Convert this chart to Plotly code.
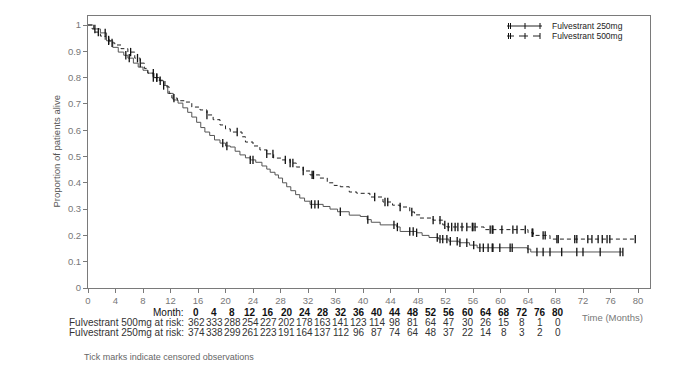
import plotly.graph_objects as go
import bisect

# ---------------- data ----------------
# Kaplan-Meier step points (time in months, proportion alive)
t250 = [0, 0.8, 1.8, 2.7, 3.6, 4.4, 5.2, 5.8, 6.6, 7.3, 8.0, 8.7, 9.6, 10.4, 11.0, 11.6,
        12.4, 13.1, 13.8, 14.5, 15.1, 15.8, 16.4, 17.0, 17.7, 18.4, 19.2, 20.0, 20.7, 21.4,
        22.1, 22.9, 23.6, 24.4, 25.3, 26.0, 26.5, 27.2, 27.7, 28.3, 28.9, 29.5, 30.2, 30.8,
        31.5, 32.3, 34.2, 35.2, 36.3, 38.0, 39.6, 40.6, 41.2, 42.5, 44.9, 45.4, 47.8, 48.6,
        49.6, 51.0, 52.5, 54.0, 55.5, 56.6, 63.9, 64.4, 77.8]
s250 = [1.0, 0.985, 0.97, 0.94, 0.915, 0.897, 0.885, 0.874, 0.855, 0.84, 0.828, 0.817, 0.80,
        0.788, 0.77, 0.74, 0.715, 0.703, 0.685, 0.668, 0.65, 0.63, 0.61, 0.593, 0.58, 0.563,
        0.551, 0.54, 0.536, 0.52, 0.506, 0.495, 0.487, 0.478, 0.464, 0.452, 0.44, 0.43, 0.418,
        0.40, 0.385, 0.37, 0.355, 0.342, 0.33, 0.318, 0.31, 0.30, 0.29, 0.277, 0.272, 0.26,
        0.25, 0.24, 0.232, 0.215, 0.21, 0.20, 0.192, 0.186, 0.178, 0.172, 0.163, 0.153, 0.148,
        0.137, 0.137]

t500 = [0, 0.6, 1.0, 1.8, 2.5, 3.2, 3.9, 4.8, 5.8, 6.8, 7.6, 8.2, 8.7, 9.5, 10.2, 11.2, 11.8,
        12.2, 13.0, 14.1, 15.1, 16.3, 17.3, 18.2, 19.2, 20.0, 20.7, 22.4, 22.9, 24.0, 25.0,
        26.0, 27.0, 28.2, 29.4, 30.3, 31.3, 32.3, 33.7, 34.8, 35.8, 36.7, 38.0, 39.1, 41.0,
        42.9, 44.3, 45.4, 46.8, 47.5, 48.3, 50.2, 51.6, 52.2, 57.6, 64.0, 64.8, 67.2, 79.8]
s500 = [1.0, 0.985, 0.973, 0.958, 0.943, 0.932, 0.924, 0.91, 0.897, 0.874, 0.855, 0.835,
        0.817, 0.80, 0.79, 0.765, 0.74, 0.722, 0.712, 0.707, 0.688, 0.677, 0.658, 0.64, 0.62,
        0.605, 0.593, 0.575, 0.555, 0.54, 0.525, 0.51, 0.494, 0.487, 0.475, 0.46, 0.445, 0.43,
        0.418, 0.40, 0.39, 0.385, 0.365, 0.36, 0.346, 0.327, 0.315, 0.308, 0.289, 0.278, 0.266,
        0.258, 0.24, 0.232, 0.222, 0.21, 0.20, 0.186, 0.186]

# censored observation times (months)
cens250 = [1.0, 2.5, 3.0, 5.5, 6.0, 9.5, 10.0, 10.5, 11.0, 19.6, 20.2, 23.6, 24.0, 32.5, 33.0,
           33.5, 36.7, 40.7, 44.5, 45.0, 46.8, 47.3, 47.8, 50.8, 51.2, 51.6, 52.2, 52.7, 53.7,
           54.1, 55.1, 56.1, 57.0, 57.5, 58.2, 58.8, 58.9, 59.9, 61.4, 61.7, 64.0, 65.3, 66.2,
           67.2, 68.9, 71.1, 72.0, 74.5, 77.4, 77.8]
cens500 = [1.5, 3.0, 3.5, 6.2, 7.2, 7.6, 9.5, 10.0, 12.5, 17.3, 21.7, 26.0, 26.9, 28.7, 29.4,
           29.8, 31.3, 32.6, 32.8, 41.7, 43.2, 43.6, 45.4, 47.1, 50.2, 51.2, 51.9, 52.4, 52.9,
           53.4, 53.8, 54.4, 55.1, 55.9, 56.0, 56.3, 58.5, 58.8, 58.9, 60.2, 61.8, 62.4, 63.6,
           64.6, 64.7, 66.2, 66.5, 68.2, 68.4, 70.8, 71.1, 72.7, 73.3, 74.2, 74.8, 75.5, 75.9,
           79.6]

x_ticks = list(range(0, 81, 4))
y_ticks = [0, 0.1, 0.2, 0.3, 0.4, 0.5, 0.6, 0.7, 0.8, 0.9, 1]
y_tick_labels = ["0", "0.1", "0.2", "0.3", "0.4", "0.5", "0.6", "0.7", "0.8", "0.9", "1"]

risk_months = list(range(0, 81, 4))
risk500 = [362, 333, 288, 254, 227, 202, 178, 163, 141, 123, 114, 98, 81, 64, 47, 30, 26, 15, 8, 1, 0]
risk250 = [374, 338, 299, 261, 223, 191, 164, 137, 112, 96, 87, 74, 64, 48, 37, 22, 14, 8, 3, 2, 0]

name250 = "Fulvestrant 250mg"
name500 = "Fulvestrant 500mg"

# ---------------- helpers ----------------
def surv_at(ts, ss, t):
    i = bisect.bisect_right(ts, t) - 1
    return ss[max(i, 0)]

FONT = "Liberation Sans, Arial, sans-serif"
# the page body adds an 8px offset; plot area sits at page x 88..650, y 16..288
OFF = 8
W, H = 665, 360
PL, PR, PT, PB = 88, 650, 16, 288
L, T = PL - OFF, PT - OFF
R = W - (PR - OFF)
B = H - (PB - OFF)
PW, PH = PR - PL, PB - PT

def px_x(px):
    return (px - PL) / PW

def px_y(py):
    return (PB - py) / PH

fig = go.Figure()

fig.add_trace(go.Scatter(x=t250, y=s250, mode="lines", line=dict(color="#555555", width=1, shape="hv"),
                         name=name250, showlegend=False, hoverinfo="skip"))
fig.add_trace(go.Scatter(x=t500, y=s500, mode="lines",
                         line=dict(color="#222222", width=1, shape="hv", dash="4px,3px"),
                         name=name500, showlegend=False, hoverinfo="skip"))

fig.add_trace(go.Scatter(x=cens250, y=[surv_at(t250, s250, t) for t in cens250], mode="markers",
                         marker=dict(symbol="line-ns", size=6, line=dict(color="#111111", width=1.3)),
                         showlegend=False, hoverinfo="skip"))
fig.add_trace(go.Scatter(x=cens500, y=[surv_at(t500, s500, t) for t in cens500], mode="markers",
                         marker=dict(symbol="line-ns", size=6, line=dict(color="#111111", width=1.3)),
                         showlegend=False, hoverinfo="skip"))

ax_col = "#7a7a7a"
tick_font = dict(family=FONT, size=9.5, color="#777777")
fig.update_xaxes(range=[0, PW / 6.875], tickvals=x_ticks, ticktext=[str(v) for v in x_ticks],
                 showgrid=False, zeroline=False, showline=True, linecolor=ax_col, linewidth=1,
                 mirror=True, ticks="outside", ticklen=4, tickcolor=ax_col, tickfont=tick_font)
fig.update_yaxes(range=[0, PH / 263], tickvals=y_ticks, ticktext=y_tick_labels,
                 showgrid=False, zeroline=False, showline=True, linecolor=ax_col, linewidth=1,
                 mirror=True, ticks="outside", ticklen=4, tickcolor=ax_col, tickfont=tick_font)

shapes = []
annotations = []

# manual legend
leg_rows = [(name250, 26, None), (name500, 36, "dash")]
for name, py, dash in leg_rows:
    if dash is None:
        shapes.append(dict(type="line", xref="paper", yref="paper", x0=px_x(507), x1=px_x(542),
                           y0=px_y(py), y1=px_y(py), line=dict(color="#222222", width=1)))
    else:
        for a, b in [(507, 514), (519, 528), (533, 540)]:
            shapes.append(dict(type="line", xref="paper", yref="paper", x0=px_x(a), x1=px_x(b),
                               y0=px_y(py), y1=px_y(py), line=dict(color="#222222", width=1)))
    for tx in (508.5, 510.5, 525, 540):
        shapes.append(dict(type="line", xref="paper", yref="paper", x0=px_x(tx), x1=px_x(tx),
                           y0=px_y(py - 3), y1=px_y(py + 3), line=dict(color="#111111", width=1)))
    annotations.append(dict(x=px_x(551), y=px_y(py), xref="paper", yref="paper", text=name,
                            showarrow=False, xanchor="left", yanchor="middle", borderpad=0,
                            font=dict(family=FONT, size=8.5, color="#222222")))

# y title
annotations.append(dict(x=px_x(48), y=px_y(152), xref="paper", yref="paper",
                        text="Proportion of patients alive", textangle=-90, showarrow=False,
                        font=dict(family=FONT, size=9.5, color="#555555")))

# risk table
rows = [("Month:", risk_months, 312, "#111111", True),
        ("Fulvestrant 500mg at risk:", risk500, 322, "#333333", False),
        ("Fulvestrant 250mg at risk:", risk250, 332, "#333333", False)]
for label, vals, py, col, bold in rows:
    annotations.append(dict(x=px_x(186), y=px_y(py), xref="paper", yref="paper",
                            text=label, showarrow=False, xanchor="right", yanchor="middle",
                            font=dict(family=FONT, size=10, color=col)))
    for i, v in enumerate(vals):
        txt = f"<b>{v}</b>" if bold else str(v)
        annotations.append(dict(x=px_x(196 + 18.1 * i), y=px_y(py), xref="paper", yref="paper",
                                text=txt, showarrow=False, xanchor="center", yanchor="middle",
                                font=dict(family=FONT, size=10, color=col)))

annotations.append(dict(x=px_x(612), y=px_y(317), xref="paper", yref="paper", text="Time (Months)",
                        showarrow=False, xanchor="center", yanchor="middle",
                        font=dict(family=FONT, size=9.5, color="#777777")))
annotations.append(dict(x=px_x(82), y=px_y(357), xref="paper", yref="paper",
                        text="Tick marks indicate censored observations", showarrow=False,
                        xanchor="left", yanchor="middle",
                        font=dict(family=FONT, size=9, color="#666666")))

fig.update_layout(width=W, height=H, margin=dict(l=L, r=R, t=T, b=B),
                  paper_bgcolor="white", plot_bgcolor="white",
                  shapes=shapes, annotations=annotations, showlegend=False)

fig.write_html("out.html")
